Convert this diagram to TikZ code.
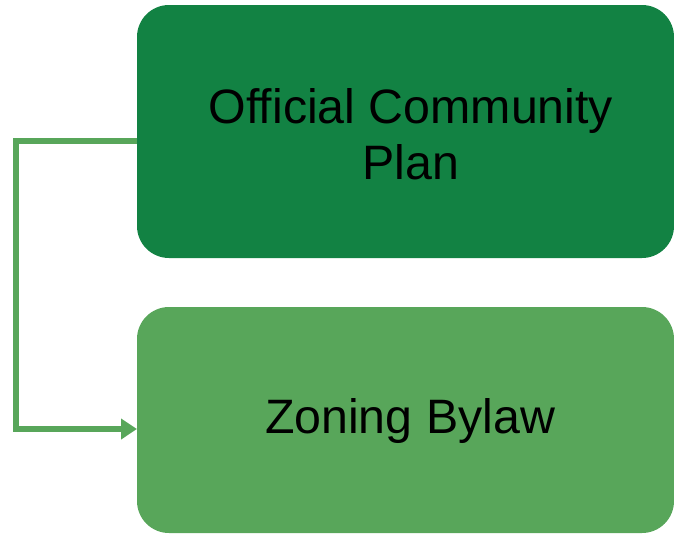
\documentclass[tikz,border=0pt]{standalone}
\usepackage{fontspec}
\setmainfont{Liberation Sans}
\usetikzlibrary{arrows.meta}
\definecolor{darkg}{RGB}{18,130,67}
\definecolor{lightg}{RGB}{88,166,90}
\tikzset{
  boxstyle/.style={rounded corners=32pt, inner sep=0pt},
  boxtext/.style={font=\fontsize{48.3}{56}\selectfont, align=center, text=black},
  link/.style={draw=lightg, line width=6pt, -{Triangle[length=16pt,width=20pt]}}
}
\begin{document}
\begin{tikzpicture}[x=1pt,y=-1pt]
\useasboundingbox (0,0) rectangle (674,533);
\fill[darkg, boxstyle] (137,5) rectangle (674,258);
\fill[lightg, boxstyle] (137,307) rectangle (674,533);
\node[boxtext] (ocp) at (411,134) {Official Community\\Plan};
\node[boxtext] (zb) at (410,421) {Zoning Bylaw};
\coordinate (a) at (137,141);
\coordinate (b) at (137,429);
\draw[link] (a) -- (16,141) -- (16,429) -- (b);
\end{tikzpicture}
\end{document}
